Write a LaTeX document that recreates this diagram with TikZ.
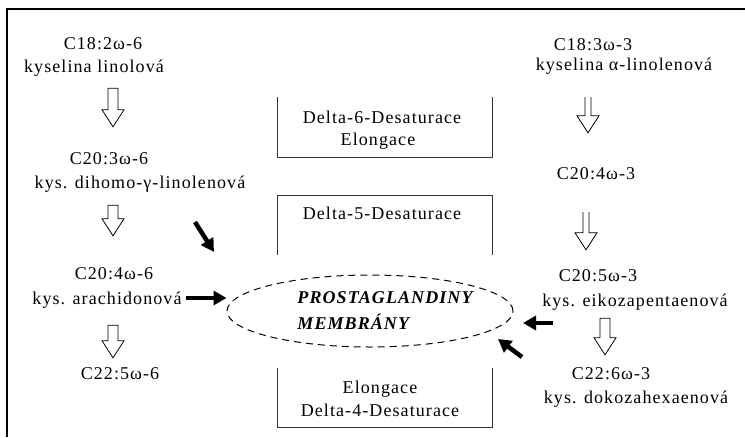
\documentclass[tikz,border=0pt]{standalone}
\usepackage{fontspec}
\setmainfont{Liberation Serif}[LetterSpace=6]
\usetikzlibrary{arrows.meta,shapes.geometric,calc}

\begin{document}
\begin{tikzpicture}[x=1pt,y=-1pt,font=\fontsize{18}{22}\selectfont,
	txt/.style={inner sep=0pt,text height=12pt,text depth=0pt},
	blk/.style={line width=4.5pt,-{Triangle[length=13pt,width=14pt]}},
	hollow/.style={line width=0.8pt,to path={let \p1=(\tikztostart),\p2=(\tikztotarget) in
		(\x1-5pt,\y1) -- (\x1-5pt,\y2+17pt) -- (\x1-11pt,\y2+17pt) -- (\x1,\y2) -- (\x1+11pt,\y2+17pt) -- (\x1+5pt,\y2+17pt) -- (\x1+5pt,\y1) -- cycle}},
	hollowopen/.style={line width=0.8pt,to path={let \p1=(\tikztostart),\p2=(\tikztotarget) in
		(\x1-3pt,\y1) -- (\x1-3pt,\y2+17pt) -- (\x1-11pt,\y2+17pt) -- (\x1,\y2) -- (\x1+11pt,\y2+17pt) -- (\x1+3pt,\y2+17pt) -- (\x1+3pt,\y1)}},
	enzbox/.style={line width=1pt,black!80}]
		\useasboundingbox (0,0) rectangle (745,437);
		\draw[line width=2pt] (7,437) -- (7,9) -- (745,9);
		% omega-6 rada
		\node[txt] (c18n6) at (103,43) {C18:2ω-6};
		\node[txt] (c18n6k) at (94,66) {kyselina linolová};
		\node[txt] (c20n6) at (109,158) {C20:3ω-6};
		\node[txt] (c20n6k) at (140,182) {kys. dihomo-γ-linolenová};
		\node[txt] (c20n6a) at (114,273) {C20:4ω-6};
		\node[txt] (c20n6ak) at (107,298) {kys. arachidonová};
		\node[txt] (c22n6) at (120,373) {C22:5ω-6};
		% omega-3 rada
		\node[txt] (c18n3) at (593,44) {C18:3ω-3};
		\node[txt] (c18n3k) at (624,64) {kyselina α-linolenová};
		\node[txt] (c20n3) at (596,173) {C20:4ω-3};
		\node[txt] (c20n3a) at (598,275) {C20:5ω-3};
		\node[txt] (c20n3ak) at (635,300) {kys. eikozapentaenová};
		\node[txt] (c22n3) at (611,373) {C22:6ω-3};
		\node[txt] (c22n3k) at (636,397) {kys. dokozahexaenová};
		% enzymy
		\draw[enzbox] (277,97) -- (277,157) -- (492,157) -- (492,97);
		\node[txt] (d6) at (382,117) {Delta-6-Desaturace};
		\node[txt] (el1) at (378,139) {Elongace};
		\draw[enzbox] (277,255) -- (277,195) -- (492,195) -- (492,255);
		\node[txt] (d5) at (382,213) {Delta-5-Desaturace};
		\draw[enzbox] (277,368) -- (277,427) -- (492,427) -- (492,368);
		\node[txt] (el2) at (380,387) {Elongace};
		\node[txt] (d4) at (380,410) {Delta-4-Desaturace};
		% membrana
		\node[ellipse,draw,line width=1pt,dash pattern=on 7pt off 5pt,minimum width=286pt,minimum height=72pt] (memb) at (370,311) {};
		\node[align=left,inner sep=0pt,font=\fontsize{18}{26}\selectfont\bfseries\itshape] (prost) at (385,311) {PROSTAGLANDINY\\MEMBRÁNY};
		% premeny
		\draw[hollow] ([xshift=19pt,yshift=-16pt]c18n6k.south) to ([yshift=25pt]c20n6.north);
		\draw[hollow] ([xshift=-27pt,yshift=-17pt]c20n6k.south) to ([yshift=31pt]c20n6a.north);
		\draw[hollow] ([xshift=6pt,yshift=-21pt]c20n6ak.south) to ([yshift=9pt]c22n6.north);
		\draw[hollowopen] ([xshift=-36pt,yshift=-27pt]c18n3k.south) to ([yshift=34pt]c20n3.north);
		\draw[hollowopen] ([xshift=-10pt,yshift=-33pt]c20n3.south) to ([yshift=19pt]c20n3a.north);
		\draw[hollow] ([xshift=-30pt,yshift=-12pt]c20n3ak.south) to ([yshift=12pt]c22n3.north);
		% do membran
		\coordinate (ultail) at (195,222);
		\coordinate (ulhead) at (214,252);
		\coordinate (rttail) at (553,323);
		\coordinate (rthead) at (523,323);
		\coordinate (rbtail) at (522,357);
		\coordinate (rbhead) at (498,339);
		\draw[blk] ([xshift=4pt]c20n6ak.east) -- (c20n6ak.east -| memb.west);
		\draw[blk] (ultail) -- (ulhead);
		\draw[blk] (rttail) -- (rthead);
		\draw[blk] (rbtail) -- (rbhead);
	\end{tikzpicture}
\end{document}
